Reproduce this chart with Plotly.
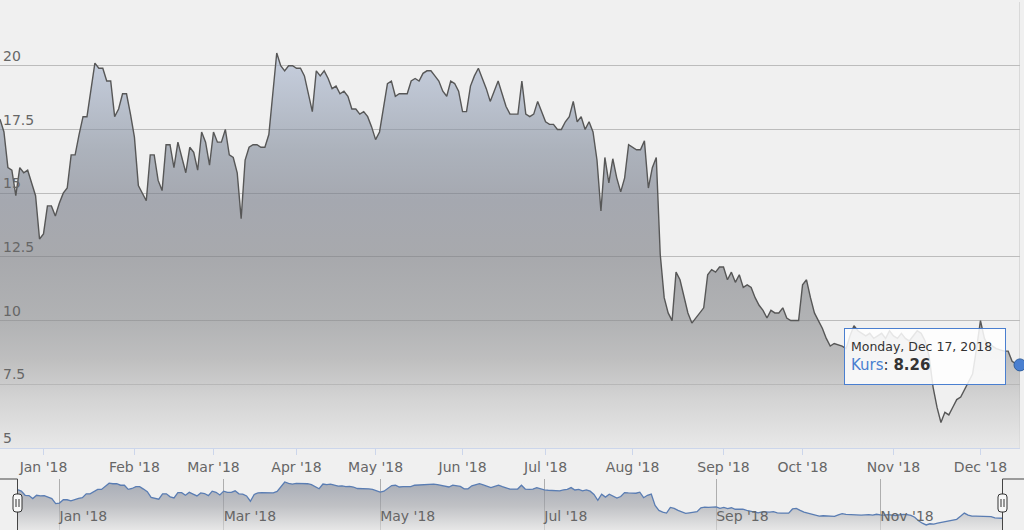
import pandas as pd
import plotly.graph_objects as go

# ---------------- data ----------------
START_DATE = "2017-12-15"
END_DATE = "2018-12-17"
HOLIDAYS = ["2018-03-30", "2018-04-02", "2018-05-01"]
SERIES_NAME = "Kurs"

kurs = [
    17.9, 17.4, 16.0, 15.9, 14.9, 16.0, 15.8, 15.9, 15.4, 14.9,
    13.2, 13.4, 14.5, 14.5, 14.1, 14.6, 15.0, 15.2, 16.5, 16.5,
    17.3, 18.0, 18.0, 19.1, 20.1, 19.9, 19.9, 19.4, 19.4, 18.0,
    18.3, 18.9, 18.9, 18.1, 17.2, 15.3, 15.0, 14.7, 16.5, 16.5,
    15.5, 15.1, 16.9, 16.9, 16.0, 17.0, 16.4, 15.8, 16.8, 16.6,
    15.9, 17.4, 17.0, 16.1, 17.4, 17.0, 17.0, 17.5, 16.5, 16.4,
    15.8, 14.0, 16.3, 16.8, 16.9, 16.9, 16.8, 16.8, 17.3, 18.9,
    20.5, 20.0, 19.8, 20.0, 20.0, 19.9,
    19.9, 19.6, 18.9, 18.2, 19.8, 19.6, 19.8, 19.5, 19.1, 19.2,
    18.9, 19.0,
    18.8, 18.3, 18.3, 18.1, 18.2, 18.0, 17.6,
    17.1, 17.4, 18.3, 19.3, 19.4, 18.8, 18.9, 18.9, 18.9, 19.4,
    19.5, 19.4, 19.7, 19.8, 19.8, 19.6, 19.4, 19.0, 18.8, 19.4,
    19.3, 19.0, 18.2, 18.2, 19.2, 19.6, 19.9, 19.5, 19.1, 18.6,
    19.0, 19.4, 18.9, 18.4, 18.1, 18.1, 18.1, 19.4, 18.1, 18.0,
    18.1, 18.6, 18.2, 17.8, 17.7,
    17.7, 17.5, 17.5, 17.8, 18.0, 18.6, 17.8, 18.0, 17.5, 17.8,
    17.4, 16.3, 14.3, 16.4, 15.4, 16.35, 15.6, 15.05, 15.6, 16.9,
    16.8, 16.7, 16.7, 17.05, 15.2, 16.0, 16.4, 12.6, 10.9, 10.3,
    10.0, 11.9, 11.6, 10.9, 10.3, 9.9, 10.1, 10.3,
    10.5, 11.8, 12.0, 11.9, 12.1, 12.1, 11.6, 11.9, 11.5, 11.8,
    11.3, 11.4, 11.3,
    10.9, 10.6, 10.4, 10.1, 10.4, 10.3,
    10.3, 10.5, 10.1, 10.0, 10.0, 10.0, 11.4, 11.6, 10.9, 10.3,
    10.0, 9.7, 9.3, 9.0, 9.1, 9.05, 9.0, 8.9, 9.4, 9.8,
    9.6, 9.5, 9.4, 9.5, 9.3, 9.4, 9.5, 9.3, 9.6, 9.4,
    9.3, 9.5, 9.3, 9.2, 9.4, 9.6, 9.5, 9.2, 8.6, 7.4,
    6.6, 6.0, 6.4, 6.3, 6.6, 6.9, 7.0, 7.3, 7.6, 7.9,
    8.9, 10.0, 9.3, 9.0, 9.0, 8.9,
    8.85, 8.8, 8.8, 8.4, 8.3, 8.26,
]

dates = pd.bdate_range(START_DATE, END_DATE, freq="C", holidays=HOLIDAYS)
assert len(dates) == len(kurs), (len(dates), len(kurs))

Y_TICKS = [5, 7.5, 10, 12.5, 15, 17.5, 20, 22.5]
Y_TICKTEXT = ["5", "7.5", "10", "12.5", "15", "17.5", "20", ""]
X_TICKFORMAT = "%b '%y"

# ---------------- styling ----------------
W, H = 1024, 530
FONT = "DejaVu Sans"
BG = "#f0f0f0"
LABEL = "#666666"
SERIES_COLOR = "#4a7fd0"


def fx(p):
    return p / W


def fy(p):
    return 1 - p / H


MAIN_X_DOMAIN = [0, fx(1020)]
MAIN_Y_DOMAIN = [fy(448), fy(2)]
NAV_L, NAV_R = fx(17.5), fx(1002.5)
NAV_TOP = fy(479)
HANDLE_Y = fy(503)

rb = [dict(bounds=["sat", "mon"]), dict(values=HOLIDAYS)]

main_scale = [
    [0.0, "rgba(227,227,227,0.6)"],
    [0.123, "rgba(193,193,193,0.6)"],
    [0.226, "rgba(157,157,158,0.6)"],
    [0.323, "rgba(135,137,140,0.6)"],
    [0.477, "rgba(120,122,128,0.6)"],
    [0.626, "rgba(115,120,133,0.6)"],
    [0.755, "rgba(127,137,153,0.6)"],
    [1.0, "rgba(172,186,212,0.6)"],
]
nav_scale = [
    [0.0, "rgba(225,225,225,0.6)"],
    [0.5, "rgba(160,162,168,0.6)"],
    [1.0, "rgba(120,128,145,0.6)"],
]

fig = go.Figure()

fig.add_trace(go.Scatter(
    x=dates, y=kurs, mode="lines", name=SERIES_NAME,
    line=dict(color="#575757", width=1.4),
    fill="tozeroy",
    fillgradient=dict(type="vertical", colorscale=main_scale,
                      start=5, stop=max(kurs)),
    xaxis="x", yaxis="y", hoverinfo="skip",
))

fig.add_trace(go.Scatter(
    x=[dates[-1]], y=[kurs[-1]], mode="markers",
    marker=dict(size=12, color=SERIES_COLOR, line=dict(color="#2f5f9f", width=1)),
    cliponaxis=False, xaxis="x", yaxis="y", hoverinfo="skip",
))

nav_lo = min(kurs) - 1.7
nav_hi = max(kurs) + 1.0
fig.add_trace(go.Scatter(
    x=dates, y=kurs, mode="lines",
    line=dict(color="#5a7db3", width=1.3),
    fill="tozeroy",
    fillgradient=dict(type="vertical", colorscale=nav_scale,
                      start=nav_lo, stop=max(kurs)),
    xaxis="x2", yaxis="y2", hoverinfo="skip",
))

tick_font = dict(family=FONT, size=14, color=LABEL)

fig.update_layout(
    width=W, height=H,
    margin=dict(l=0, r=0, t=0, b=0),
    paper_bgcolor=BG, plot_bgcolor=BG,
    showlegend=False, hovermode=False,
    font=dict(family=FONT, color="#333333"),
    xaxis=dict(
        domain=MAIN_X_DOMAIN, anchor="y",
        range=[dates[0], dates[-1]], rangebreaks=rb,
        tick0="2018-01-01", dtick="M1", tickformat=X_TICKFORMAT,
        showgrid=False, zeroline=False,
        showline=True, linecolor="#ccd6eb", linewidth=1,
        ticks="outside", ticklen=6, tickcolor="#ccd6eb",
        tickfont=tick_font,
    ),
    yaxis=dict(
        domain=MAIN_Y_DOMAIN, anchor="x",
        range=[5, 22.5],
        tickmode="array", tickvals=Y_TICKS, ticktext=Y_TICKTEXT,
        ticklabelposition="inside top",
        showgrid=True, gridcolor="#bcbcbc", gridwidth=1,
        zeroline=False, showline=False, ticks="",
        tickfont=tick_font,
    ),
    xaxis2=dict(
        domain=[NAV_L, NAV_R], anchor="y2",
        range=[dates[0], dates[-1]], rangebreaks=rb,
        tick0="2018-01-01", dtick="M2", tickformat=X_TICKFORMAT,
        ticklabelposition="inside right", ticks="",
        showgrid=True, gridcolor="rgba(120,120,120,0.55)", gridwidth=1,
        zeroline=False, showline=False,
        tickfont=tick_font,
    ),
    yaxis2=dict(
        domain=[0, NAV_TOP], anchor="x2",
        range=[nav_lo, nav_hi],
        showgrid=False, zeroline=False, showticklabels=False, ticks="",
    ),
)

shapes = []
# crosshair at hovered point
shapes.append(dict(type="line", xref="x", yref="y domain",
                   x0=dates[-1], x1=dates[-1], y0=0, y1=1,
                   line=dict(color="rgba(190,190,190,0.9)", width=1), layer="below"))
# navigator outline
outline = dict(color="#444444", width=1)
shapes.append(dict(type="line", xref="paper", yref="paper",
                   x0=0, x1=NAV_L, y0=NAV_TOP, y1=NAV_TOP, line=outline))
shapes.append(dict(type="line", xref="paper", yref="paper",
                   x0=NAV_L, x1=NAV_L, y0=NAV_TOP, y1=0, line=outline))
shapes.append(dict(type="line", xref="paper", yref="paper",
                   x0=NAV_R, x1=1, y0=NAV_TOP, y1=NAV_TOP, line=outline))
shapes.append(dict(type="line", xref="paper", yref="paper",
                   x0=NAV_R, x1=NAV_R, y0=NAV_TOP, y1=0, line=outline))
# handles
handle_path = ("M -4.5,-6 L -4.5,6 Q -4.5,9 -1.5,9 L 1.5,9 Q 4.5,9 4.5,6 "
               "L 4.5,-6 Q 4.5,-9 1.5,-9 L -1.5,-9 Q -4.5,-9 -4.5,-6 Z")
grip_path = "M -1.5,-4 L -1.5,4 M 1.5,-4 L 1.5,4"
for hx in (NAV_L, NAV_R):
    shapes.append(dict(type="path", xref="paper", yref="paper",
                       xsizemode="pixel", ysizemode="pixel",
                       xanchor=hx, yanchor=HANDLE_Y, path=handle_path,
                       fillcolor="#f8f8f8", line=dict(color="#333333", width=1),
                       layer="above"))
    shapes.append(dict(type="path", xref="paper", yref="paper",
                       xsizemode="pixel", ysizemode="pixel",
                       xanchor=hx, yanchor=HANDLE_Y, path=grip_path,
                       line=dict(color="#333333", width=1), layer="above"))
fig.update_layout(shapes=shapes)

# tooltip
date_str = dates[-1].strftime("%A, %b %-d, %Y")
tip = (f"<span style='font-size:12.5px'>{date_str}</span><br>"
       f"<span style='color:{SERIES_COLOR}'>{SERIES_NAME}</span>: "
       f"<b>{kurs[-1]:.2f}</b>")
fig.add_annotation(
    xref="x", yref="y", x=dates[-1], y=kurs[-1],
    xanchor="right", yanchor="middle", xshift=-14, yshift=8,
    text=tip, showarrow=False, align="left", valign="middle",
    font=dict(family=FONT, size=15, color="#333333"),
    bgcolor="rgba(255,255,255,0.85)", bordercolor=SERIES_COLOR,
    borderwidth=1, borderpad=6, width=148, height=43,
)

fig.write_html(
    "out.html",
    config={"displayModeBar": False},
    post_script="document.body.style.margin='0';document.body.style.overflow='hidden';",
)
